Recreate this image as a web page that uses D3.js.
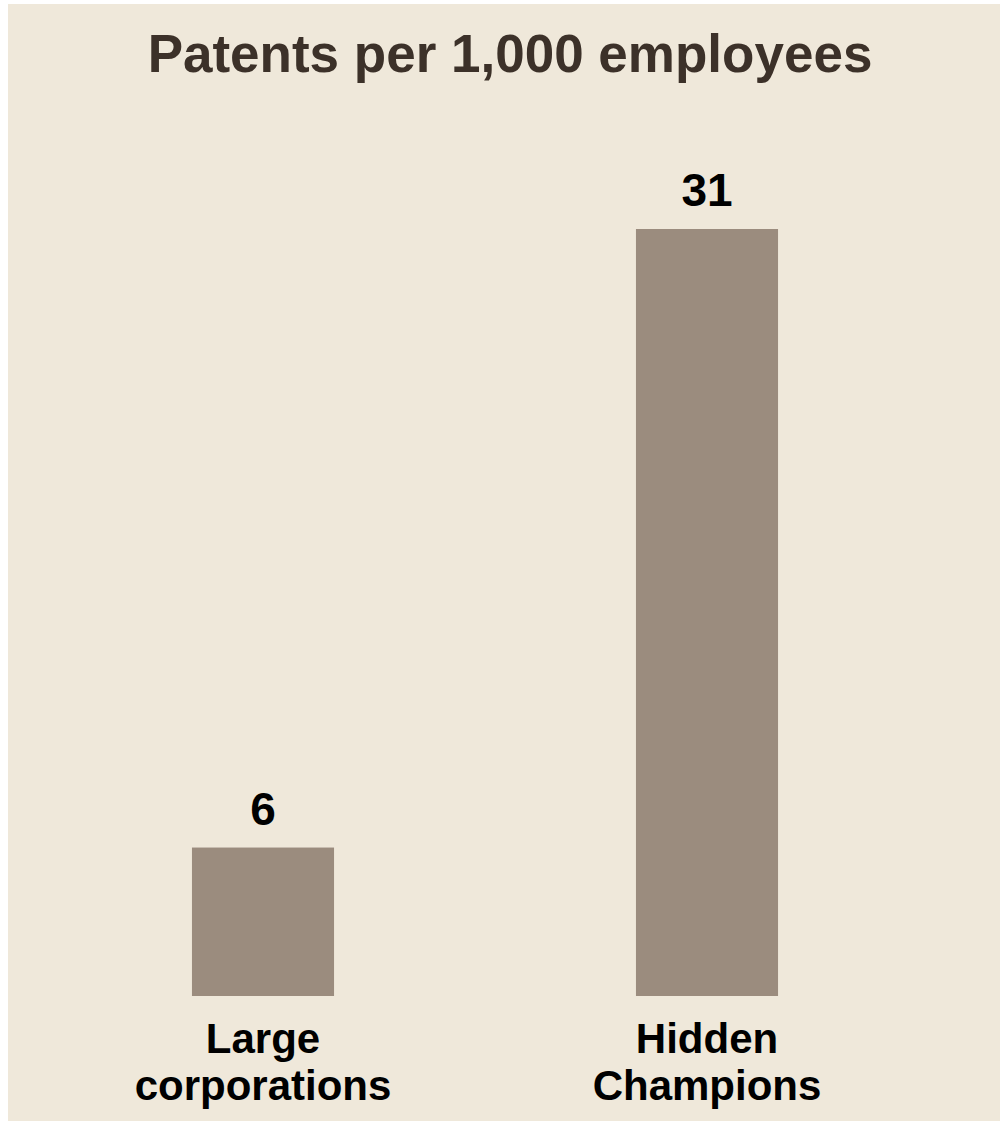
<!DOCTYPE html>
<html>
<head>
<meta charset="utf-8">
<script src="https://cdn.jsdelivr.net/npm/d3@7"></script>
<style>
  html, body { margin: 0; padding: 0; background: #ffffff; }
  svg { display: block; }
</style>
</head>
<body>
<svg id="chart" width="1000" height="1121"></svg>
<script>
// Patents per 1,000 employees
const categories = [["Large", "corporations"], ["Hidden", "Champions"]];
const categoryKeys = ["Large corporations", "Hidden Champions"];
const values = [6, 31];
const title = "Patents per 1,000 employees";

const width = 1000, height = 1121;
const svg = d3.select("#chart");
const font = "'Liberation Sans', Arial, Helvetica, sans-serif";

// beige panel
svg.append("rect")
  .attr("x", 8).attr("y", 4)
  .attr("width", width - 8).attr("height", height - 4)
  .attr("fill", "#efe8da");

// title
svg.append("text")
  .attr("x", 510).attr("y", 72)
  .attr("text-anchor", "middle")
  .attr("font-family", font)
  .attr("font-weight", "bold")
  .attr("font-size", 53)
  .attr("fill", "#3c3129")
  .text(title);

const x = d3.scaleBand()
  .domain(categoryKeys)
  .range([41, 929])
  .paddingInner(0.68)
  .paddingOuter(0.34);

const baseline = 996;
const y = d3.scaleLinear()
  .domain([0, 31])
  .range([baseline, 229]);

const data = categoryKeys.map((k, i) => ({ key: k, lines: categories[i], value: values[i] }));

// bars
svg.append("g").selectAll("rect")
  .data(data)
  .join("rect")
  .attr("x", d => x(d.key))
  .attr("y", d => y(d.value))
  .attr("width", x.bandwidth())
  .attr("height", d => y(0) - y(d.value))
  .attr("fill", "#9b8c7e");

// value labels
svg.append("g").selectAll("text")
  .data(data)
  .join("text")
  .attr("x", d => x(d.key) + x.bandwidth() / 2)
  .attr("y", d => y(d.value) - 23)
  .attr("text-anchor", "middle")
  .attr("font-family", font)
  .attr("font-weight", "bold")
  .attr("font-size", 46)
  .attr("fill", "#000000")
  .text(d => d.value);

// category labels (two lines each)
const cat = svg.append("g").selectAll("text")
  .data(data)
  .join("text")
  .attr("x", d => x(d.key) + x.bandwidth() / 2)
  .attr("y", 1053)
  .attr("text-anchor", "middle")
  .attr("font-family", font)
  .attr("font-weight", "bold")
  .attr("font-size", 42)
  .attr("fill", "#000000");

cat.selectAll("tspan")
  .data(d => d.lines.map(l => ({ l, cx: x(d.key) + x.bandwidth() / 2 })))
  .join("tspan")
  .attr("x", t => t.cx)
  .attr("dy", (t, i) => i === 0 ? 0 : 47)
  .text(t => t.l);
</script>
</body>
</html>
